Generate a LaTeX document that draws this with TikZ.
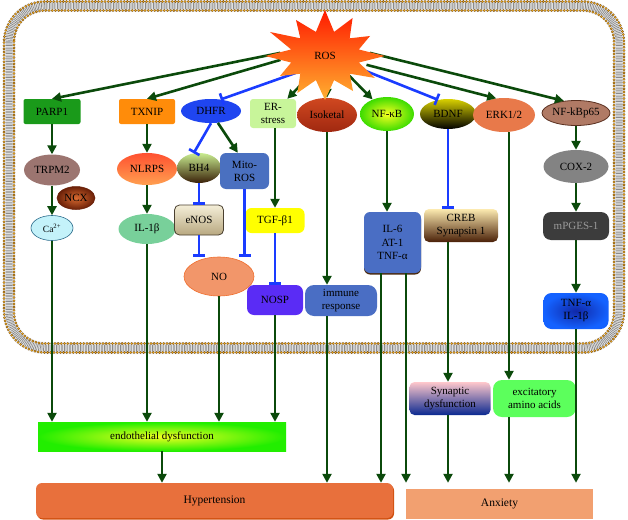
\documentclass[tikz,border=0pt]{standalone}
\usepackage{fontspec}
\setmainfont{Liberation Serif}
\usetikzlibrary{arrows.meta,shapes.geometric,calc}
\definecolor{dgreen}{HTML}{0B4A0B}
\definecolor{bblue}{HTML}{1A3CFF}
\definecolor{parp}{HTML}{1A9A1A}
\definecolor{txnip}{HTML}{FF8C0A}
\definecolor{dhfr}{HTML}{1F45F0}
\definecolor{ers}{HTML}{C8F59A}
\definecolor{isok}{HTML}{D04820}
\definecolor{isok2}{HTML}{A02810}
\definecolor{nfkbin}{HTML}{F8FF20}
\definecolor{nfkbout}{HTML}{3CDC00}
\definecolor{bdnftop}{HTML}{D8D000}
\definecolor{bdnfmid}{HTML}{A09800}
\definecolor{erk}{HTML}{E8794A}
\definecolor{pSixFive}{HTML}{B07A65}
\definecolor{pSixFiveD}{HTML}{5A3020}
\definecolor{trpm}{HTML}{9C7570}
\definecolor{ncxin}{HTML}{D86A30}
\definecolor{ncxout}{HTML}{6A2008}
\definecolor{caf}{HTML}{C4F2FA}
\definecolor{cad}{HTML}{2A6A8A}
\definecolor{nlrtop}{HTML}{FF5030}
\definecolor{nlrmid}{HTML}{FF2010}
\definecolor{nlrbot}{HTML}{FFA050}
\definecolor{ilb}{HTML}{78D09A}
\definecolor{bhtop}{HTML}{C8EC90}
\definecolor{bhmid}{HTML}{A8D070}
\definecolor{bhbot}{HTML}{3A2008}
\definecolor{mito}{HTML}{4A70C0}
\definecolor{enostop}{HTML}{F4EED8}
\definecolor{enosbot}{HTML}{B8A880}
\definecolor{enosd}{HTML}{4A4030}
\definecolor{nof}{HTML}{F2966A}
\definecolor{nod}{HTML}{F07030}
\definecolor{tgf}{HTML}{FFFF00}
\definecolor{nosp}{HTML}{5A2CF5}
\definecolor{immune}{HTML}{4A6EC4}
\definecolor{ilshadow}{HTML}{4A2A10}
\definecolor{crebtop}{HTML}{FCEAB0}
\definecolor{crebmid}{HTML}{C8A070}
\definecolor{crebbot}{HTML}{4A2008}
\definecolor{cox}{HTML}{838383}
\definecolor{mpg}{HTML}{3C3C3C}
\definecolor{mpgt}{HTML}{9A9A9A}
\definecolor{tnfin}{HTML}{1028A8}
\definecolor{tnfout}{HTML}{1462FF}
\definecolor{endoin}{HTML}{F0FF20}
\definecolor{endoout}{HTML}{22EE00}
\definecolor{hyp}{HTML}{E8703C}
\definecolor{hypd}{HTML}{D05010}
\definecolor{anx}{HTML}{F2A070}
\definecolor{syntop}{HTML}{FFC8CC}
\definecolor{synbot}{HTML}{0A2890}
\definecolor{exc}{HTML}{5CFF5C}
\definecolor{membase}{HTML}{EDEDED}
\definecolor{membtail}{HTML}{8A8A8A}
\definecolor{headd}{HTML}{7A4A08}
\definecolor{headl}{HTML}{E8A820}
\definecolor{startop}{HTML}{FF1A00}
\definecolor{starmid}{HTML}{FF5A00}
\definecolor{starbot}{HTML}{FFB030}
\tikzset{
  lbl/.style={font=\fontsize{11}{13}\selectfont, text=black, inner sep=0pt, align=center},
  rbox/.style={lbl, rectangle, rounded corners=2pt},
  ell/.style={lbl, ellipse},
  garrow/.style={draw=dgreen, line width=2.6pt, -{Triangle[length=9pt,width=9pt]}},
  bbar/.style={draw=bblue, line width=2.6pt, -{Bar[width=12pt,line width=2.6pt]}}
}
\begin{document}
\begin{tikzpicture}[x=1pt,y=-1pt]
\useasboundingbox (0,0) rectangle (628,519);
\fill[white] (0,0) rectangle (628,519);
% membrane
\draw[line width=12pt, membase, rounded corners=36pt] (9,6) rectangle (619,348);
\draw[line width=7pt, membtail, dash pattern=on 0.7pt off 0.9pt, rounded corners=36pt] (9,6) rectangle (619,348);
\draw[line width=2.8pt, headd, dash pattern=on 0pt off 3.2pt, line cap=round, rounded corners=41pt] (4,1.5) rectangle (624,352.5);
\draw[line width=1.7pt, headl, dash pattern=on 0pt off 3.2pt, line cap=round, rounded corners=41pt] (4,1.5) rectangle (624,352.5);
\draw[line width=2.8pt, headd, dash pattern=on 0pt off 3.2pt, line cap=round, rounded corners=31pt] (14,10.5) rectangle (614,343.5);
\draw[line width=1.7pt, headl, dash pattern=on 0pt off 3.2pt, line cap=round, rounded corners=31pt] (14,10.5) rectangle (614,343.5);

% ROS anchor node
\node[ellipse, minimum width=90pt, minimum height=44pt, inner sep=0pt] (ROS) at (325,56) {};

% top row
\node[rbox, fill=parp, minimum width=57pt, minimum height=25pt] (PARP1) at (52,111.5) {PARP1};
\node[rbox, fill=txnip, minimum width=56pt, minimum height=25pt] (TXNIP) at (147,111.5) {TXNIP};
\node[ell, fill=dhfr, minimum width=60pt, minimum height=24pt] (DHFR) at (211,111) {DHFR};
\node[rbox, rounded corners=3pt, fill=ers, minimum width=46pt, minimum height=29pt] (ER) at (273,113.5) {ER-\\stress};
\node[ell, top color=isok, bottom color=isok2, minimum width=60pt, minimum height=34pt] (Iso) at (327,115) {Isoketal};
\node[ell, inner color=nfkbin, outer color=nfkbout, minimum width=54pt, minimum height=34pt] (NFkB) at (387,114) {NF-κB};
\node[ell, top color=bdnftop, middle color=bdnfmid, bottom color=black, minimum width=56pt, minimum height=30pt] (BDNF) at (448,114) {BDNF};
\node[ell, fill=erk, minimum width=62pt, minimum height=34pt] (ERK) at (504,115) {ERK1/2};
\node[ell, fill=pSixFive, draw=pSixFiveD, line width=0.8pt, minimum width=68pt, minimum height=25pt] (P65) at (576,113) {NF-kBp65};

% second level
\node[ell, fill=trpm, minimum width=56pt, minimum height=31pt] (TRPM2) at (52,170) {TRPM2};
\node[ell, inner color=ncxin, outer color=ncxout, draw=ncxout, line width=0.5pt, minimum width=38pt, minimum height=23pt] (NCX) at (76,198) {NCX};
\node[ell, fill=caf, draw=cad, line width=0.6pt, minimum width=42pt, minimum height=25pt, font=\fontsize{9.5}{10}\selectfont] (Ca) at (52,228) {Ca\textsuperscript{2+}};
\node[ell, top color=nlrtop, middle color=nlrmid, bottom color=nlrbot, minimum width=60pt, minimum height=32pt] (NLRPS) at (147,169) {NLRPS};
\node[ell, fill=ilb, minimum width=57pt, minimum height=30pt] (IL1b) at (147,229) {IL-1β};
\node[ell, top color=bhtop, middle color=bhmid, bottom color=bhbot, minimum width=44pt, minimum height=30pt] (BH4) at (199,168) {BH4};
\node[rbox, rounded corners=6pt, fill=mito, minimum width=49pt, minimum height=36pt] (Mito) at (244.5,171) {Mito-\\ROS};
\node[rbox, rounded corners=5pt, top color=enostop, bottom color=enosbot, draw=enosd, line width=0.8pt, minimum width=49pt, minimum height=30pt] (eNOS) at (199,220) {eNOS};
\node[ell, fill=nof, draw=nod, line width=0.6pt, minimum width=70pt, minimum height=39pt] (NO) at (219,276.5) {NO};
\node[rbox, rounded corners=6pt, fill=tgf, minimum width=59pt, minimum height=25pt] (TGF) at (275,220.5) {TGF-β1};
\node[rbox, rounded corners=7pt, fill=nosp, minimum width=56pt, minimum height=30pt] (NOSP) at (275,300) {NOSP};
\node[rbox, rounded corners=9pt, fill=immune, minimum width=72pt, minimum height=31pt] (Imm) at (341,300.5) {immune\\response};
\node[rbox, rounded corners=6pt, fill=immune, preaction={fill=ilshadow, transform canvas={yshift=-1.5pt}}, minimum width=57pt, minimum height=61pt, font=\fontsize{11}{13.5}\selectfont] (IL6) at (392.5,242.5) {IL-6\\AT-1\\TNF-α};
\node[rbox, rounded corners=5pt, top color=crebtop, middle color=crebmid, bottom color=crebbot, minimum width=74pt, minimum height=33pt] (CREB) at (461,225.5) {CREB\\Synapsin 1};
\node[ell, fill=cox, minimum width=65pt, minimum height=33pt] (COX) at (576,166.5) {COX-2};
\node[rbox, rounded corners=8pt, fill=mpg, text=mpgt, minimum width=66pt, minimum height=28pt] (mPG) at (576,226) {mPGES-1};
\node[rbox, rounded corners=8pt, inner color=tnfin, outer color=tnfout, minimum width=65pt, minimum height=36pt] (TNF) at (576,311) {TNF-α\\IL-1β};

% lower boxes
\node[lbl, rectangle, inner color=endoin, outer color=endoout, minimum width=248pt, minimum height=29pt] (Endo) at (162,436.5) {endothelial dysfunction};
\node[rbox, rounded corners=6pt, fill=hyp, preaction={fill=hypd, transform canvas={shift={(1pt,-1.5pt)}}}, minimum width=357pt, minimum height=35pt, font=\fontsize{11.5}{13}\selectfont] (Hyp) at (214.5,500.5) {Hypertension};
\node[lbl, rectangle, fill=anx, minimum width=187pt, minimum height=30pt, font=\fontsize{11.5}{13}\selectfont] (Anx) at (499.5,504) {Anxiety};
\node[rbox, rounded corners=5pt, top color=syntop, middle color=syntop, bottom color=synbot, minimum width=81pt, minimum height=33pt] (Syn) at (450,398.5) {Synaptic\\dysfunction};
\node[rbox, rounded corners=9pt, fill=exc, minimum width=83pt, minimum height=37pt] (Exc) at (534.5,398.5) {excitatory\\amino acids};

% arrows from ROS
\draw[garrow] (ROS.176) -- (PARP1.north);
\draw[garrow] (ROS.185) -- (TXNIP.north);
\draw[bbar] (ROS.210) -- (DHFR.50);
\draw[garrow] (ROS.232) -- (ER);
\draw[garrow] (ROS.275) -- (Iso.north);
\draw[garrow] (ROS.321) -- (NFkB);
\draw[bbar] (ROS.340) -- (BDNF.125);
\draw[garrow] (ROS.348) -- (ERK.115);
\draw[garrow] (ROS.4) -- (P65.135);

% star
\shade[top color=startop, middle color=starmid, bottom color=starbot]
  (385,56) -- (358.8,49.5) -- (370,36) -- (349.7,38.3) -- (352.6,18) -- (334.1,31.9)
  -- (325,10) -- (315.9,31.9) -- (296,20) -- (300.3,38.3) -- (270,32) -- (291.2,49.5)
  -- (265,56) -- (291.2,62.5) -- (280,76) -- (300.3,73.7) -- (297.4,93) -- (315.9,80.1)
  -- (325,100) -- (334.1,80.1) -- (353,91) -- (349.7,73.7) -- (375,78) -- (358.8,62.5) -- cycle;
\node[lbl] (ROSlabel) at (ROS.center) {ROS};

% left chains
\draw[garrow] (PARP1) -- (TRPM2);
\draw[garrow] (TRPM2) -- (Ca);
\draw[garrow] (Ca) -- (Ca |- Endo.north);
\draw[garrow] (TXNIP) -- (NLRPS);
\draw[garrow] (NLRPS) -- (IL1b);
\draw[garrow] (IL1b) -- (IL1b |- Endo.north);
\draw[bbar] (DHFR.south) -- (BH4.110);
\draw[garrow] (DHFR.300) -- ($(Mito.north west)+(18,0)$);
\draw[bbar] (BH4) -- (eNOS);
\draw[bbar] (eNOS) -- (eNOS |- NO.north);
\draw[bbar] (Mito) -- (Mito |- NO.north);
\draw[garrow] (NO) -- (NO |- Endo.north);
\draw[garrow] (TGF.north |- ER.south) -- (TGF.north);
\draw[bbar] (TGF) -- (NOSP);
\draw[garrow] (NOSP) -- (NOSP |- Endo.north);
\draw[garrow] (Iso) -- (Iso |- Imm.north);
\draw[garrow] (Iso |- Imm.south) -- (Iso |- Hyp.north);
\draw[garrow] (Endo) -- (Endo |- Hyp.north);

% right chains
\draw[garrow] (NFkB) -- (NFkB |- IL6.north);
\coordinate (ILa) at ($(IL6.south)+(-11.5,0)$);
\coordinate (ILb) at ($(IL6.south)+(13.5,0)$);
\draw[garrow] (ILa) -- (ILa |- Hyp.north);
\draw[garrow] (ILb) -- (ILb |- Hyp.north);
\draw[bbar] (BDNF) -- (BDNF |- CREB.north);
\draw[garrow] (BDNF |- CREB.south) -- (BDNF |- Syn.north);
\draw[garrow] (BDNF |- Syn.south) -- (BDNF |- Hyp.north);
\coordinate (ERKa) at ($(ERK.south)+(5,0)$);
\draw[garrow] (ERKa) -- (ERKa |- Exc.north);
\draw[garrow] (ERKa |- Exc.south) -- (ERKa |- Hyp.north);
\draw[garrow] (P65) -- (COX);
\draw[garrow] (COX) -- (mPG);
\draw[garrow] (mPG) -- (TNF);
\draw[garrow] (TNF) -- (TNF |- Hyp.north);
\end{tikzpicture}
\end{document}
